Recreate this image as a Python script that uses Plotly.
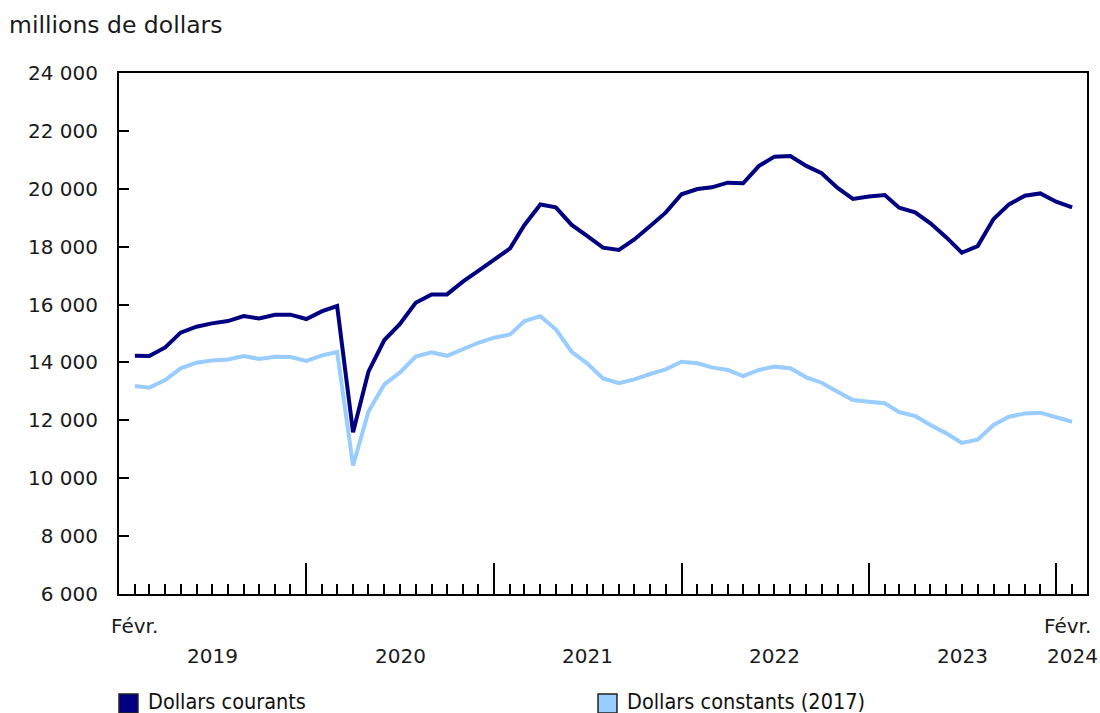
import pandas as pd
import plotly.graph_objects as go

# Monthly data, Feb 2019 - Feb 2024 (millions de dollars)
months = pd.date_range("2019-02-01", "2024-02-01", freq="MS")

courants = [
    14230, 14220, 14520, 15030, 15235, 15350, 15430, 15600, 15520, 15650, 15650,
    15500, 15770, 15950, 11590, 13680, 14775, 15320, 16060, 16350, 16350, 16790,
    17160, 17560, 17940, 18750, 19460, 19360, 18750, 18370, 17965, 17885, 18250,
    18715, 19175, 19810, 19990, 20050, 20210, 20190, 20790, 21110, 21130, 20790,
    20535, 20030, 19650, 19730, 19785, 19345, 19185, 18805, 18320, 17790, 18020,
    18955, 19460, 19760, 19840, 19555, 19360,
]
constants = [
    13185, 13130, 13390, 13795, 13990, 14070, 14105, 14220, 14120, 14200, 14190,
    14050, 14245, 14360, 10440, 12300, 13245, 13645, 14200, 14350, 14230, 14465,
    14680, 14855, 14970, 15430, 15600, 15145, 14370, 13970, 13450, 13280, 13415,
    13600, 13760, 14025, 13970, 13830, 13740, 13530, 13740, 13855, 13800, 13485,
    13300, 12990, 12700, 12645, 12590, 12280, 12150, 11840, 11550, 11220, 11330,
    11840, 12125, 12240, 12265, 12105, 11950,
]
series_names = ["Dollars courants", "Dollars constants (2017)"]
series_colors = ["#000080", "#99CCFF"]
y_ticks = list(range(6000, 24001, 2000))
year_labels = ["2019", "2020", "2021", "2022", "2023", "2024"]
title_text = "millions de dollars"

FONT = "DejaVu Sans"
TXT = "#1a1a1a"

fig = go.Figure()
for name, vals, col in zip(series_names, [courants, constants], series_colors):
    fig.add_trace(go.Scatter(x=months, y=vals, mode="lines", name=name,
                             line=dict(color=col, width=4), showlegend=False))

major = [pd.Timestamp(f"{y}-01-01") for y in range(2020, 2025)]
fig.update_xaxes(
    range=[pd.Timestamp("2019-01-01"), pd.Timestamp("2024-03-01")],
    showline=True, linecolor="black", linewidth=2, mirror=True,
    showgrid=False, zeroline=False,
    tickmode="array", tickvals=major, ticks="inside", ticklen=31, tickwidth=2,
    tickcolor="black", showticklabels=False,
    minor=dict(tickmode="array", tickvals=list(months), ticks="inside",
               ticklen=10, tickwidth=2, tickcolor="black", showgrid=False),
)
fig.update_yaxes(
    range=[6000, 24000],
    showline=True, linecolor="black", linewidth=2, mirror=True,
    showgrid=False, zeroline=False,
    tickmode="array", tickvals=y_ticks, tickformat=",d",
    ticks="inside", ticklen=10, tickwidth=2, tickcolor="black",
    tickfont=dict(family=FONT, size=20, color=TXT),
    ticklabelstandoff=15,
)

ann = []
# Month labels
ann.append(dict(x=months[0], y=-0.062, xref="x", yref="paper", text="Févr.",
                showarrow=False, xanchor="center", yanchor="middle",
                font=dict(family=FONT, size=20, color=TXT)))
ann.append(dict(x=months[-1], y=-0.062, xref="x", yref="paper", text="Févr.",
                showarrow=False, xanchor="center", yanchor="middle", xshift=-5,
                font=dict(family=FONT, size=20, color=TXT)))
# Year labels
year_pos = [pd.Timestamp("2019-07-02"), pd.Timestamp("2020-07-02"),
            pd.Timestamp("2021-07-02"), pd.Timestamp("2022-07-02"),
            pd.Timestamp("2023-07-02"), months[-1]]
for yp, lab in zip(year_pos, year_labels):
    ann.append(dict(x=yp, y=-0.119, xref="x", yref="paper", text=lab,
                    showarrow=False, xanchor="center", yanchor="middle",
                    font=dict(family=FONT, size=20, color=TXT)))
# Title
ann.append(dict(x=-0.1155, y=1.092, xref="paper", yref="paper", text=title_text,
                showarrow=False, xanchor="left", yanchor="middle",
                font=dict(family=FONT, size=23.5, color=TXT)))

# Legend (boxes + labels)
def px_x(p):
    return (p - 119) / 970.0

def px_y(p):
    return (594 - p) / 521.0

shapes = []
leg_x = [119, 599]
for lx, name, col in zip(leg_x, series_names, series_colors):
    shapes.append(dict(type="rect", xref="paper", yref="paper",
                       x0=px_x(lx), x1=px_x(lx + 19), y0=px_y(713), y1=px_y(694),
                       fillcolor=col, line=dict(color="#222", width=1.5)))
    ann.append(dict(x=px_x(lx + 27), y=px_y(701.5), xref="paper", yref="paper",
                    text=name, showarrow=False, xanchor="left", yanchor="middle",
                    font=dict(family="DejaVu Sans Condensed", size=21.5, color="#111")))

fig.update_layout(
    width=1100, height=713,
    margin=dict(l=119, r=11, t=73, b=119),
    plot_bgcolor="white", paper_bgcolor="white",
    separators=". ",
    annotations=ann, shapes=shapes,
    showlegend=False,
)

fig.write_html("out.html",
               config={"displayModeBar": False},
               post_script="document.body.style.margin='0';document.body.style.overflow='hidden';")
